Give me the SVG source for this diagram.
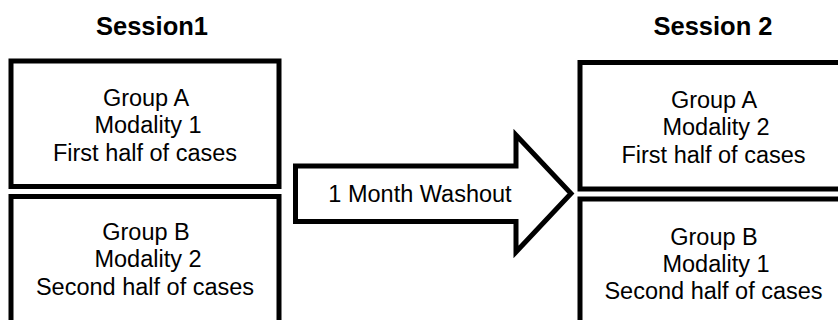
<svg xmlns="http://www.w3.org/2000/svg" width="838" height="320" viewBox="0 0 838 320">
  <style>
    .box { fill: #ffffff; stroke: #000000; stroke-width: 5; }
    .arrow { fill: #ffffff; stroke: #000000; stroke-width: 5; stroke-linejoin: miter; stroke-miterlimit: 10; }
    .t { font-family: "Liberation Sans", Arial, sans-serif; font-size: 23.5px; fill: #000000; text-anchor: middle; }
    .h { font-family: "Liberation Sans", Arial, sans-serif; font-size: 25.5px; font-weight: bold; fill: #000000; text-anchor: middle; }
  </style>
  <rect width="838" height="320" fill="#ffffff"/>
  <text class="h" x="152" y="35">Session1</text>
  <text class="h" x="713" y="35">Session 2</text>
  <g id="s1-groupA">
    <rect class="box" x="11" y="61" width="268" height="125.5"/>
    <text class="t" x="146" y="106">Group A</text>
    <text class="t" x="148" y="133">Modality 1</text>
    <text class="t" x="145" y="160.5">First half of cases</text>
  </g>
  <g id="s1-groupB">
    <rect class="box" x="11" y="196.5" width="268" height="160"/>
    <text class="t" x="146" y="240">Group B</text>
    <text class="t" x="148" y="267">Modality 2</text>
    <text class="t" x="145" y="295">Second half of cases</text>
  </g>
  <g id="s2-groupA">
    <rect class="box" x="580" y="62.5" width="300" height="126.5"/>
    <text class="t" x="714" y="108">Group A</text>
    <text class="t" x="716" y="135">Modality 2</text>
    <text class="t" x="713.5" y="162.5">First half of cases</text>
  </g>
  <g id="s2-groupB">
    <rect class="box" x="580" y="199" width="300" height="160"/>
    <text class="t" x="714" y="245">Group B</text>
    <text class="t" x="716" y="272">Modality 1</text>
    <text class="t" x="713.5" y="298.5">Second half of cases</text>
  </g>
  <g id="connectors">
    <g id="washout-arrow">
      <path class="arrow" d="M295.5,166 L516,166 L516,135 L571,193.5 L516,252 L516,221.5 L295.5,221.5 Z"/>
      <text class="t" x="420" y="202">1 Month Washout</text>
    </g>
  </g>
</svg>
